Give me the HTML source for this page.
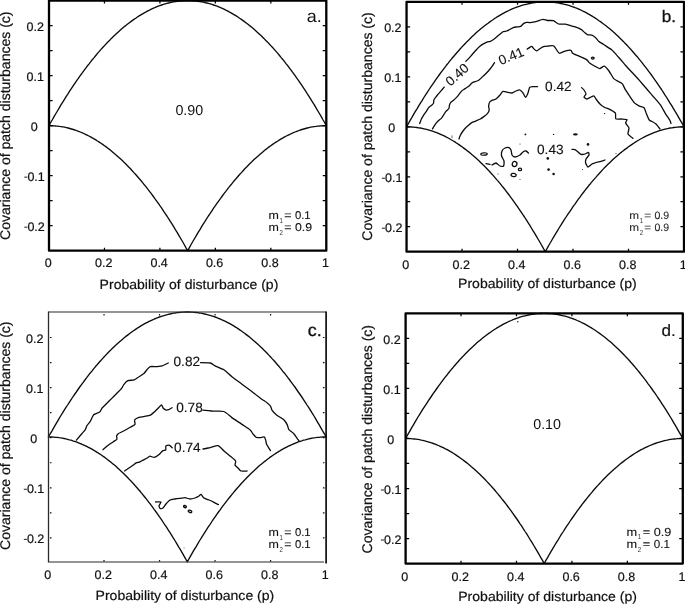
<!DOCTYPE html>
<html><head><meta charset="utf-8"><title>fig</title>
<style>
html,body{margin:0;padding:0;background:#fff;}
body{width:685px;height:604px;overflow:hidden;position:relative;font-family:"Liberation Sans",sans-serif;}
svg{position:absolute;left:0;top:0;will-change:transform;}
text{font-family:"Liberation Sans",sans-serif;fill:#111;text-rendering:geometricPrecision;}
.tk,.al,.yl{stroke:#111;stroke-width:0.2px;}
.ml{stroke:#111;stroke-width:0.1px;}
.tk{font-size:12.5px;}
.al{font-size:13.3px;}
.yl{font-size:14px;}
.pl{font-size:17.6px;}
.ml{font-size:11.3px;}
.ms{font-size:7.2px;fill:#333;}
.cl{font-size:13.4px;stroke:#111;stroke-width:0.12px;}
.bl{font-size:14.3px;}
.cv{fill:none;stroke:#0c0c0c;stroke-width:1.35;stroke-linejoin:round;stroke-linecap:round;}
.ct{fill:none;stroke:#0c0c0c;stroke-width:1.3;stroke-linejoin:round;stroke-linecap:round;}
.dt{fill:#111;}
</style></head><body>
<svg width="685" height="604" viewBox="0 0 685 604">
<rect x="0" y="0" width="685" height="604" fill="#fff"/>

<!-- panel a -->
<path class="cv" d="M49.0 125.6 L50.7 122.5 L52.5 119.5 L54.2 116.4 L55.9 113.5 L57.7 110.5 L59.4 107.6 L61.1 104.7 L62.9 101.9 L64.6 99.1 L66.3 96.3 L68.1 93.6 L69.8 90.9 L71.5 88.3 L73.3 85.7 L75.0 83.2 L76.7 80.6 L78.5 78.2 L80.2 75.7 L81.9 73.3 L83.7 70.9 L85.4 68.6 L87.1 66.3 L88.9 64.1 L90.6 61.9 L92.3 59.7 L94.1 57.6 L95.8 55.5 L97.5 53.4 L99.3 51.4 L101.0 49.4 L102.7 47.5 L104.5 45.6 L106.2 43.8 L107.9 41.9 L109.7 40.2 L111.4 38.4 L113.1 36.7 L114.9 35.1 L116.6 33.4 L118.3 31.9 L120.1 30.3 L121.8 28.8 L123.5 27.3 L125.3 25.9 L127.0 24.5 L128.7 23.2 L130.5 21.9 L132.2 20.6 L133.9 19.4 L135.7 18.2 L137.4 17.0 L139.1 15.9 L140.9 14.8 L142.6 13.8 L144.3 12.8 L146.1 11.9 L147.8 10.9 L149.5 10.1 L151.3 9.2 L153.0 8.4 L154.7 7.7 L156.5 6.9 L158.2 6.2 L159.9 5.6 L161.7 5.0 L163.4 4.4 L165.1 3.9 L166.9 3.4 L168.6 3.0 L170.3 2.6 L172.1 2.2 L173.8 1.9 L175.5 1.6 L177.3 1.3 L179.0 1.1 L180.7 0.9 L182.5 0.8 L184.2 0.7 L185.9 0.6 L187.7 0.6 L189.4 0.6 L191.1 0.7 L192.8 0.8 L194.6 0.9 L196.3 1.1 L198.0 1.3 L199.8 1.6 L201.5 1.9 L203.2 2.2 L205.0 2.6 L206.7 3.0 L208.4 3.4 L210.2 3.9 L211.9 4.4 L213.6 5.0 L215.4 5.6 L217.1 6.2 L218.8 6.9 L220.6 7.7 L222.3 8.4 L224.0 9.2 L225.8 10.1 L227.5 10.9 L229.2 11.9 L231.0 12.8 L232.7 13.8 L234.4 14.8 L236.2 15.9 L237.9 17.0 L239.6 18.2 L241.4 19.4 L243.1 20.6 L244.8 21.9 L246.6 23.2 L248.3 24.5 L250.0 25.9 L251.8 27.3 L253.5 28.8 L255.2 30.3 L257.0 31.9 L258.7 33.4 L260.4 35.1 L262.2 36.7 L263.9 38.4 L265.6 40.2 L267.4 41.9 L269.1 43.8 L270.8 45.6 L272.6 47.5 L274.3 49.4 L276.0 51.4 L277.8 53.4 L279.5 55.5 L281.2 57.6 L283.0 59.7 L284.7 61.9 L286.4 64.1 L288.2 66.3 L289.9 68.6 L291.6 70.9 L293.4 73.3 L295.1 75.7 L296.8 78.2 L298.6 80.6 L300.3 83.2 L302.0 85.7 L303.8 88.3 L305.5 90.9 L307.2 93.6 L309.0 96.3 L310.7 99.1 L312.4 101.9 L314.2 104.7 L315.9 107.6 L317.6 110.5 L319.4 113.5 L321.1 116.4 L322.8 119.5 L324.6 122.5 L326.3 125.6"/>
<path class="cv" d="M49.0 125.6 L50.7 125.7 L52.5 125.7 L54.2 125.8 L55.9 126.0 L57.7 126.1 L59.4 126.4 L61.1 126.6 L62.9 126.9 L64.6 127.2 L66.3 127.6 L68.1 128.0 L69.8 128.5 L71.5 129.0 L73.3 129.5 L75.0 130.0 L76.7 130.7 L78.5 131.3 L80.2 132.0 L81.9 132.7 L83.7 133.5 L85.4 134.3 L87.1 135.1 L88.9 136.0 L90.6 136.9 L92.3 137.9 L94.1 138.9 L95.8 139.9 L97.5 141.0 L99.3 142.1 L101.0 143.2 L102.7 144.4 L104.5 145.7 L106.2 146.9 L107.9 148.2 L109.7 149.6 L111.4 151.0 L113.1 152.4 L114.9 153.9 L116.6 155.4 L118.3 156.9 L120.1 158.5 L121.8 160.1 L123.5 161.8 L125.3 163.5 L127.0 165.2 L128.7 167.0 L130.5 168.8 L132.2 170.7 L133.9 172.6 L135.7 174.5 L137.4 176.5 L139.1 178.5 L140.9 180.5 L142.6 182.6 L144.3 184.8 L146.1 186.9 L147.8 189.1 L149.5 191.4 L151.3 193.7 L153.0 196.0 L154.7 198.4 L156.5 200.8 L158.2 203.2 L159.9 205.7 L161.7 208.2 L163.4 210.8 L165.1 213.4 L166.9 216.0 L168.6 218.7 L170.3 221.4 L172.1 224.1 L173.8 226.9 L175.5 229.8 L177.3 232.6 L179.0 235.6 L180.7 238.5 L182.5 241.5 L184.2 244.5 L185.9 247.6 L187.7 250.7 L189.4 247.6 L191.1 244.5 L192.8 241.5 L194.6 238.5 L196.3 235.6 L198.0 232.6 L199.8 229.8 L201.5 226.9 L203.2 224.1 L205.0 221.4 L206.7 218.7 L208.4 216.0 L210.2 213.4 L211.9 210.8 L213.6 208.2 L215.4 205.7 L217.1 203.2 L218.8 200.8 L220.6 198.4 L222.3 196.0 L224.0 193.7 L225.8 191.4 L227.5 189.1 L229.2 186.9 L231.0 184.8 L232.7 182.6 L234.4 180.5 L236.2 178.5 L237.9 176.5 L239.6 174.5 L241.4 172.6 L243.1 170.7 L244.8 168.8 L246.6 167.0 L248.3 165.2 L250.0 163.5 L251.8 161.8 L253.5 160.1 L255.2 158.5 L257.0 156.9 L258.7 155.4 L260.4 153.9 L262.2 152.4 L263.9 151.0 L265.6 149.6 L267.4 148.2 L269.1 146.9 L270.8 145.7 L272.6 144.4 L274.3 143.2 L276.0 142.1 L277.8 141.0 L279.5 139.9 L281.2 138.9 L283.0 137.9 L284.7 136.9 L286.4 136.0 L288.2 135.1 L289.9 134.3 L291.6 133.5 L293.4 132.7 L295.1 132.0 L296.8 131.3 L298.6 130.7 L300.3 130.0 L302.0 129.5 L303.8 129.0 L305.5 128.5 L307.2 128.0 L309.0 127.6 L310.7 127.2 L312.4 126.9 L314.2 126.6 L315.9 126.4 L317.6 126.1 L319.4 126.0 L321.1 125.8 L322.8 125.7 L324.6 125.7 L326.3 125.6"/>
<rect x="49.00" y="0.60" width="277.30" height="250.10" fill="none" stroke="#000" stroke-width="2.3" stroke-linejoin="round"/>
<path d="M104.46 250.70V247.80M104.46 0.60V3.50" stroke="#000" stroke-width="1.25"/>
<path d="M159.92 250.70V247.80M159.92 0.60V3.50" stroke="#000" stroke-width="1.25"/>
<path d="M215.38 250.70V247.80M215.38 0.60V3.50" stroke="#000" stroke-width="1.25"/>
<path d="M270.84 250.70V247.80M270.84 0.60V3.50" stroke="#000" stroke-width="1.25"/>
<path d="M49.00 225.69H52.60M326.30 225.69H322.70" stroke="#000" stroke-width="1.25"/>
<path d="M49.00 200.68H52.60M326.30 200.68H322.70" stroke="#000" stroke-width="1.25"/>
<path d="M49.00 175.67H52.60M326.30 175.67H322.70" stroke="#000" stroke-width="1.25"/>
<path d="M49.00 150.66H52.60M326.30 150.66H322.70" stroke="#000" stroke-width="1.25"/>
<path d="M49.00 125.65H52.60M326.30 125.65H322.70" stroke="#000" stroke-width="1.25"/>
<path d="M49.00 100.64H52.60M326.30 100.64H322.70" stroke="#000" stroke-width="1.25"/>
<path d="M49.00 75.63H52.60M326.30 75.63H322.70" stroke="#000" stroke-width="1.25"/>
<path d="M49.00 50.62H52.60M326.30 50.62H322.70" stroke="#000" stroke-width="1.25"/>
<path d="M49.00 25.61H52.60M326.30 25.61H322.70" stroke="#000" stroke-width="1.25"/>
<text class="tk" transform="translate(48.20 267.20)" text-anchor="middle">0</text>
<text class="tk" transform="translate(103.66 267.20)" text-anchor="middle">0.2</text>
<text class="tk" transform="translate(159.12 267.20)" text-anchor="middle">0.4</text>
<text class="tk" transform="translate(214.58 267.20)" text-anchor="middle">0.6</text>
<text class="tk" transform="translate(270.04 267.20)" text-anchor="middle">0.8</text>
<text class="tk" transform="translate(325.50 267.20)" text-anchor="middle">1</text>
<text class="tk" transform="translate(44.00 30.76)" text-anchor="end">0.2</text>
<text class="tk" transform="translate(44.00 80.78)" text-anchor="end">0.1</text>
<text class="tk" transform="translate(37.60 130.80)" text-anchor="end">0</text>
<text class="tk" transform="translate(44.80 180.82)" text-anchor="end">0.1</text>
<path d="M24.30 177.17H27.40" stroke="#333" stroke-width="1.1"/>
<text class="tk" transform="translate(44.80 230.84)" text-anchor="end">0.2</text>
<path d="M24.30 227.19H27.40" stroke="#333" stroke-width="1.1"/>
<text class="al" transform="translate(188.95 288.60) scale(1.056 1)" text-anchor="middle">Probability of disturbance (p)</text>
<text class="yl" transform="translate(9.90 125.70) rotate(-90.0) scale(1.002 1)" text-anchor="middle">Covariance of patch disturbances (c)</text>
<text class="pl" transform="translate(306.70 21.90) scale(1.030 1)" text-anchor="start" style="font-size:17.4px">a.</text>
<text class="bl" transform="translate(175.40 115.00)" text-anchor="start">0.90</text>
<text class="ml" transform="translate(268.40 219.00) scale(1.100 1)" text-anchor="start" style="fill:#111;font-size:11.30px">m</text>
<text class="ms" transform="translate(279.50 222.60) scale(0.850 1)" text-anchor="start">1</text>
<text class="ml" transform="translate(284.20 219.00) scale(1.100 1)" text-anchor="start" style="fill:#111;font-size:11.30px">=</text>
<text class="ml" transform="translate(294.90 219.00)" text-anchor="start" style="fill:#111;font-size:11.30px">0.1</text>
<text class="ml" transform="translate(268.40 231.30) scale(1.100 1)" text-anchor="start" style="fill:#111;font-size:11.30px">m</text>
<text class="ms" transform="translate(279.50 234.90) scale(0.850 1)" text-anchor="start">2</text>
<text class="ml" transform="translate(284.20 231.30) scale(1.100 1)" text-anchor="start" style="fill:#111;font-size:11.30px">=</text>
<text class="ml" transform="translate(294.90 231.30) scale(1.090 1)" text-anchor="start" style="fill:#111;font-size:11.30px">0.9</text>
<!-- panel b -->
<path class="cv" d="M406.6 126.8 L408.3 123.7 L410.0 120.6 L411.8 117.6 L413.5 114.6 L415.2 111.7 L417.0 108.8 L418.7 105.9 L420.4 103.1 L422.2 100.3 L423.9 97.5 L425.6 94.8 L427.4 92.1 L429.1 89.5 L430.8 86.9 L432.6 84.4 L434.3 81.8 L436.0 79.4 L437.8 76.9 L439.5 74.5 L441.2 72.2 L443.0 69.8 L444.7 67.6 L446.4 65.3 L448.2 63.1 L449.9 60.9 L451.6 58.8 L453.4 56.7 L455.1 54.7 L456.8 52.7 L458.6 50.7 L460.3 48.8 L462.0 46.9 L463.8 45.0 L465.5 43.2 L467.2 41.4 L469.0 39.7 L470.7 38.0 L472.4 36.3 L474.2 34.7 L475.9 33.1 L477.6 31.6 L479.4 30.1 L481.1 28.6 L482.8 27.2 L484.6 25.8 L486.3 24.5 L488.1 23.2 L489.8 21.9 L491.5 20.7 L493.3 19.5 L495.0 18.3 L496.7 17.2 L498.5 16.1 L500.2 15.1 L501.9 14.1 L503.7 13.1 L505.4 12.2 L507.1 11.3 L508.9 10.5 L510.6 9.7 L512.3 8.9 L514.1 8.2 L515.8 7.5 L517.5 6.9 L519.3 6.3 L521.0 5.7 L522.7 5.2 L524.5 4.7 L526.2 4.3 L527.9 3.9 L529.7 3.5 L531.4 3.1 L533.1 2.9 L534.9 2.6 L536.6 2.4 L538.3 2.2 L540.1 2.1 L541.8 2.0 L543.5 1.9 L545.3 1.9 L547.0 1.9 L548.7 2.0 L550.5 2.1 L552.2 2.2 L553.9 2.4 L555.7 2.6 L557.4 2.9 L559.1 3.1 L560.9 3.5 L562.6 3.9 L564.3 4.3 L566.1 4.7 L567.8 5.2 L569.6 5.7 L571.3 6.3 L573.0 6.9 L574.8 7.5 L576.5 8.2 L578.2 8.9 L580.0 9.7 L581.7 10.5 L583.4 11.3 L585.2 12.2 L586.9 13.1 L588.6 14.1 L590.4 15.1 L592.1 16.1 L593.8 17.2 L595.6 18.3 L597.3 19.5 L599.0 20.7 L600.8 21.9 L602.5 23.2 L604.2 24.5 L606.0 25.8 L607.7 27.2 L609.4 28.6 L611.2 30.1 L612.9 31.6 L614.6 33.1 L616.4 34.7 L618.1 36.3 L619.8 38.0 L621.6 39.7 L623.3 41.4 L625.0 43.2 L626.8 45.0 L628.5 46.9 L630.2 48.8 L632.0 50.7 L633.7 52.7 L635.4 54.7 L637.2 56.7 L638.9 58.8 L640.6 60.9 L642.4 63.1 L644.1 65.3 L645.9 67.6 L647.6 69.8 L649.3 72.2 L651.1 74.5 L652.8 76.9 L654.5 79.4 L656.3 81.8 L658.0 84.4 L659.7 86.9 L661.5 89.5 L663.2 92.1 L664.9 94.8 L666.7 97.5 L668.4 100.3 L670.1 103.1 L671.9 105.9 L673.6 108.8 L675.3 111.7 L677.1 114.6 L678.8 117.6 L680.5 120.6 L682.3 123.7 L684.0 126.8"/>
<path class="cv" d="M406.6 126.8 L408.3 126.8 L410.0 126.9 L411.8 127.0 L413.5 127.1 L415.2 127.3 L417.0 127.5 L418.7 127.8 L420.4 128.0 L422.2 128.4 L423.9 128.8 L425.6 129.2 L427.4 129.6 L429.1 130.1 L430.8 130.6 L432.6 131.2 L434.3 131.8 L436.0 132.4 L437.8 133.1 L439.5 133.8 L441.2 134.6 L443.0 135.4 L444.7 136.2 L446.4 137.1 L448.2 138.0 L449.9 139.0 L451.6 140.0 L453.4 141.0 L455.1 142.1 L456.8 143.2 L458.6 144.4 L460.3 145.6 L462.0 146.8 L463.8 148.1 L465.5 149.4 L467.2 150.7 L469.0 152.1 L470.7 153.5 L472.4 155.0 L474.2 156.5 L475.9 158.0 L477.6 159.6 L479.4 161.2 L481.1 162.9 L482.8 164.6 L484.6 166.3 L486.3 168.1 L488.1 169.9 L489.8 171.8 L491.5 173.7 L493.3 175.6 L495.0 177.6 L496.7 179.6 L498.5 181.6 L500.2 183.7 L501.9 185.8 L503.7 188.0 L505.4 190.2 L507.1 192.5 L508.9 194.7 L510.6 197.1 L512.3 199.4 L514.1 201.8 L515.8 204.3 L517.5 206.7 L519.3 209.3 L521.0 211.8 L522.7 214.4 L524.5 217.0 L526.2 219.7 L527.9 222.4 L529.7 225.2 L531.4 228.0 L533.1 230.8 L534.9 233.7 L536.6 236.6 L538.3 239.5 L540.1 242.5 L541.8 245.5 L543.5 248.6 L545.3 251.7 L547.0 248.6 L548.7 245.5 L550.5 242.5 L552.2 239.5 L553.9 236.6 L555.7 233.7 L557.4 230.8 L559.1 228.0 L560.9 225.2 L562.6 222.4 L564.3 219.7 L566.1 217.0 L567.8 214.4 L569.6 211.8 L571.3 209.3 L573.0 206.7 L574.8 204.3 L576.5 201.8 L578.2 199.4 L580.0 197.1 L581.7 194.7 L583.4 192.5 L585.2 190.2 L586.9 188.0 L588.6 185.8 L590.4 183.7 L592.1 181.6 L593.8 179.6 L595.6 177.6 L597.3 175.6 L599.0 173.7 L600.8 171.8 L602.5 169.9 L604.2 168.1 L606.0 166.3 L607.7 164.6 L609.4 162.9 L611.2 161.2 L612.9 159.6 L614.6 158.0 L616.4 156.5 L618.1 155.0 L619.8 153.5 L621.6 152.1 L623.3 150.7 L625.0 149.4 L626.8 148.1 L628.5 146.8 L630.2 145.6 L632.0 144.4 L633.7 143.2 L635.4 142.1 L637.2 141.0 L638.9 140.0 L640.6 139.0 L642.4 138.0 L644.1 137.1 L645.9 136.2 L647.6 135.4 L649.3 134.6 L651.1 133.8 L652.8 133.1 L654.5 132.4 L656.3 131.8 L658.0 131.2 L659.7 130.6 L661.5 130.1 L663.2 129.6 L664.9 129.2 L666.7 128.8 L668.4 128.4 L670.1 128.0 L671.9 127.8 L673.6 127.5 L675.3 127.3 L677.1 127.1 L678.8 127.0 L680.5 126.9 L682.3 126.8 L684.0 126.8"/>
<rect x="406.55" y="1.90" width="277.45" height="249.80" fill="none" stroke="#000" stroke-width="2.3" stroke-linejoin="round"/>
<path d="M462.04 251.70V248.80M462.04 1.90V4.80" stroke="#000" stroke-width="1.25"/>
<path d="M517.53 251.70V248.80M517.53 1.90V4.80" stroke="#000" stroke-width="1.25"/>
<path d="M573.02 251.70V248.80M573.02 1.90V4.80" stroke="#000" stroke-width="1.25"/>
<path d="M628.51 251.70V248.80M628.51 1.90V4.80" stroke="#000" stroke-width="1.25"/>
<path d="M406.55 226.72H410.15M684.00 226.72H680.40" stroke="#000" stroke-width="1.25"/>
<path d="M406.55 201.74H410.15M684.00 201.74H680.40" stroke="#000" stroke-width="1.25"/>
<path d="M406.55 176.76H410.15M684.00 176.76H680.40" stroke="#000" stroke-width="1.25"/>
<path d="M406.55 151.78H410.15M684.00 151.78H680.40" stroke="#000" stroke-width="1.25"/>
<path d="M406.55 126.80H410.15M684.00 126.80H680.40" stroke="#000" stroke-width="1.25"/>
<path d="M406.55 101.82H410.15M684.00 101.82H680.40" stroke="#000" stroke-width="1.25"/>
<path d="M406.55 76.84H410.15M684.00 76.84H680.40" stroke="#000" stroke-width="1.25"/>
<path d="M406.55 51.86H410.15M684.00 51.86H680.40" stroke="#000" stroke-width="1.25"/>
<path d="M406.55 26.88H410.15M684.00 26.88H680.40" stroke="#000" stroke-width="1.25"/>
<text class="tk" transform="translate(405.75 268.80)" text-anchor="middle">0</text>
<text class="tk" transform="translate(461.24 268.80)" text-anchor="middle">0.2</text>
<text class="tk" transform="translate(516.73 268.80)" text-anchor="middle">0.4</text>
<text class="tk" transform="translate(572.22 268.80)" text-anchor="middle">0.6</text>
<text class="tk" transform="translate(627.71 268.80)" text-anchor="middle">0.8</text>
<text class="tk" transform="translate(683.20 268.80)" text-anchor="middle">1</text>
<text class="tk" transform="translate(401.55 32.03)" text-anchor="end">0.2</text>
<text class="tk" transform="translate(401.55 81.99)" text-anchor="end">0.1</text>
<text class="tk" transform="translate(395.15 131.95)" text-anchor="end">0</text>
<text class="tk" transform="translate(402.35 181.91)" text-anchor="end">0.1</text>
<path d="M381.85 178.26H384.95" stroke="#333" stroke-width="1.1"/>
<text class="tk" transform="translate(402.35 231.87)" text-anchor="end">0.2</text>
<path d="M381.85 228.22H384.95" stroke="#333" stroke-width="1.1"/>
<text class="al" transform="translate(547.40 288.30) scale(1.056 1)" text-anchor="middle">Probability of disturbance (p)</text>
<text class="yl" transform="translate(372.20 126.50) rotate(-90.0) scale(1.002 1)" text-anchor="middle">Covariance of patch disturbances (c)</text>
<text class="pl" transform="translate(661.70 21.70) scale(1.030 1)" text-anchor="start" style="font-size:16.6px;stroke:#111;stroke-width:0.3px">b.</text>
<text class="ml" transform="translate(629.30 219.00) scale(1.100 1)" text-anchor="start" style="fill:#2a2a2a;font-size:10.68px">m</text>
<text class="ms" transform="translate(639.82 222.60) scale(0.850 1)" text-anchor="start">1</text>
<text class="ml" transform="translate(644.26 219.00) scale(1.100 1)" text-anchor="start" style="fill:#2a2a2a;font-size:10.68px">=</text>
<text class="ml" transform="translate(654.38 219.00) scale(0.990 1)" text-anchor="start" style="fill:#2a2a2a;font-size:10.68px">0.9</text>
<text class="ml" transform="translate(629.30 230.90) scale(1.100 1)" text-anchor="start" style="fill:#2a2a2a;font-size:10.68px">m</text>
<text class="ms" transform="translate(639.82 234.50) scale(0.850 1)" text-anchor="start">2</text>
<text class="ml" transform="translate(644.26 230.90) scale(1.100 1)" text-anchor="start" style="fill:#2a2a2a;font-size:10.68px">=</text>
<text class="ml" transform="translate(654.38 230.90) scale(0.990 1)" text-anchor="start" style="fill:#2a2a2a;font-size:10.68px">0.9</text>
<path class="ct" d="M419.7 123.6 C419.9 123.1 421.0 119.9 421.4 119.0 C421.8 118.1 423.3 115.7 423.8 114.9 C424.3 114.1 426.2 111.6 426.7 110.8 C427.2 110.0 428.5 107.8 429.0 107.3 C429.5 106.8 430.9 105.9 431.4 105.5 C431.8 105.1 433.2 103.8 433.5 103.2 C433.8 102.6 433.6 100.3 433.9 99.7 C434.1 99.1 435.5 97.4 436.0 96.8 C436.5 96.2 438.3 94.0 438.9 93.3 C439.5 92.6 441.4 90.4 441.9 89.8 C442.4 89.2 444.0 87.4 444.2 87.1"/>
<path class="ct" d="M465.8 61.4 C466.2 61.0 468.6 58.7 469.3 57.9 C470.0 57.1 472.1 54.6 472.8 53.8 C473.5 53.0 475.7 50.5 476.4 49.7 C477.1 48.9 479.2 46.8 479.9 46.2 C480.6 45.6 482.7 44.3 483.4 43.9 C484.1 43.5 486.2 42.4 486.9 42.1 C487.6 41.8 489.7 41.6 490.4 41.3 C491.1 41.0 493.2 39.7 493.9 39.2 C494.6 38.7 496.7 36.9 497.4 36.3 C498.1 35.7 500.3 33.9 500.9 33.4 C501.5 32.9 502.6 31.8 503.2 31.6 C503.8 31.4 506.0 31.2 506.7 31.0 C507.4 30.8 509.5 29.7 510.2 29.3 C510.9 28.9 513.0 27.5 513.7 27.3 C514.4 27.1 516.5 27.0 517.2 26.9 C517.9 26.8 520.1 26.8 520.7 26.4 C521.4 26.0 523.1 23.8 523.7 23.4 C524.3 23.0 526.0 22.4 526.6 22.3 C527.2 22.2 529.2 22.7 530.1 22.6 C531.0 22.5 534.5 22.0 535.8 21.7 C537.1 21.4 541.6 19.4 542.8 19.3 C544.0 19.2 546.4 20.4 547.5 20.5 C548.6 20.6 552.3 20.3 553.4 20.7 C554.5 21.1 557.4 23.6 558.6 24.0 C559.8 24.4 563.8 24.0 565.0 24.2 C566.2 24.4 569.7 25.5 570.9 25.8 C572.1 26.1 575.7 26.9 576.7 27.3 C577.8 27.7 580.6 29.1 581.4 29.6 C582.2 30.2 584.3 32.3 584.9 32.8 C585.5 33.3 587.1 34.6 587.8 34.8 C588.5 35.0 591.1 34.8 591.9 35.1 C592.7 35.4 594.7 36.8 595.4 37.4 C596.1 38.0 598.1 40.8 598.9 41.5 C599.7 42.2 602.3 43.6 603.6 44.5 C604.9 45.4 610.4 48.8 611.9 50.0 C613.4 51.2 617.0 55.5 618.4 57.0 C619.8 58.5 624.0 63.6 625.4 65.2 C626.8 66.8 631.0 71.3 632.4 72.8 C633.8 74.3 638.0 78.8 639.4 80.4 C640.8 82.0 645.0 86.9 646.4 88.5 C647.8 90.1 652.0 95.1 653.4 96.7 C654.8 98.3 659.2 103.3 660.4 104.9 C661.6 106.5 664.2 111.6 665.1 113.1 C666.0 114.6 669.1 119.0 669.7 120.0 C670.3 121.0 670.9 123.2 671.0 123.5"/>
<path class="ct" d="M432.5 128.9 C432.7 128.5 434.4 125.6 434.9 124.8 C435.4 124.0 437.2 121.9 437.8 121.3 C438.4 120.7 440.7 119.0 441.3 118.4 C441.9 117.8 443.1 115.6 443.6 114.9 C444.1 114.2 445.4 112.0 445.9 111.4 C446.4 110.8 448.5 109.1 448.9 108.5 C449.3 107.9 449.3 105.6 449.5 105.0 C449.7 104.4 450.2 103.1 450.6 102.6 C451.0 102.1 452.9 100.8 453.5 100.3 C454.1 99.8 455.9 98.0 456.5 97.4 C457.1 96.8 458.9 94.6 459.4 93.9 C459.9 93.2 461.1 91.4 461.7 90.9 C462.3 90.4 464.5 89.1 465.2 88.6 C465.9 88.1 468.0 86.9 468.7 86.3 C469.4 85.7 471.6 83.3 472.2 82.8 C472.8 82.3 474.5 81.9 475.1 81.6 C475.8 81.3 477.9 80.8 478.7 80.2 C479.5 79.6 482.4 76.9 483.4 75.9 C484.4 75.0 487.8 71.6 488.6 70.7 C489.4 69.8 490.9 68.0 491.5 67.2 C492.1 66.4 494.2 63.1 494.5 62.6"/>
<path class="ct" d="M527.2 49.1 C527.5 48.9 529.6 47.4 530.1 47.1 C530.6 46.8 531.4 46.2 531.8 46.4 C532.2 46.6 533.7 48.6 534.2 49.1 C534.7 49.6 535.9 51.1 536.8 50.9 C537.7 50.7 541.6 47.3 542.8 46.8 C544.0 46.3 547.6 46.1 548.7 46.0 C549.8 45.9 552.9 45.3 553.9 46.0 C554.9 46.7 558.1 52.7 559.2 53.2 C560.3 53.7 563.8 51.4 565.0 51.1 C566.2 50.8 570.1 50.1 570.9 50.3 C571.7 50.5 571.8 52.6 572.6 53.2 C573.4 53.8 577.6 55.5 579.0 56.1 C580.4 56.7 585.5 58.9 586.6 59.6 C587.7 60.3 588.8 62.5 589.6 63.1 C590.4 63.7 593.2 65.2 594.2 65.8 C595.2 66.3 598.7 68.6 599.7 68.6 C600.7 68.6 603.4 65.9 604.3 66.1 C605.2 66.3 608.1 69.8 609.0 71.0 C609.9 72.2 612.8 77.5 613.7 78.6 C614.6 79.6 617.5 81.0 618.4 81.5 C619.3 82.0 621.7 83.1 622.4 83.9 C623.1 84.7 624.6 88.4 625.4 89.7 C626.2 91.0 629.1 95.4 630.0 96.7 C630.9 98.0 633.8 102.2 634.7 103.1 C635.6 104.0 638.5 105.6 639.4 106.1 C640.3 106.6 643.4 107.0 644.1 107.8 C644.8 108.6 645.9 112.5 646.4 113.7 C646.9 114.9 648.7 119.2 649.3 120.0 C649.9 120.8 651.3 121.1 652.0 121.5 C652.7 121.9 655.2 123.2 656.0 124.0 C656.8 124.8 659.6 128.5 660.0 129.0"/>
<path class="ct" d="M459.0 139.0 C459.1 138.7 459.6 136.8 460.0 136.0 C460.4 135.2 462.4 131.8 463.0 131.0 C463.6 130.2 465.0 128.5 465.5 128.0 C466.0 127.5 467.0 126.5 467.6 126.0 C468.2 125.5 470.4 123.6 471.1 123.1 C471.9 122.6 474.2 121.7 475.1 121.3 C476.0 120.9 479.5 119.5 480.4 119.0 C481.3 118.5 483.2 117.1 483.9 116.6 C484.6 116.1 486.9 114.3 487.4 113.7 C487.9 113.1 489.1 111.0 489.2 110.2 C489.3 109.4 488.6 106.9 488.6 106.1 C488.7 105.3 489.3 102.6 489.7 102.0 C490.1 101.4 491.5 100.6 492.1 100.3 C492.7 100.0 495.2 99.5 496.0 99.0 C496.8 98.5 499.3 95.8 500.0 95.0 C500.7 94.2 502.2 91.7 503.0 91.4 C503.8 91.1 507.1 92.2 508.0 92.4 C508.9 92.6 511.2 93.1 512.0 93.0 C512.8 92.9 515.2 91.3 516.0 91.0 C516.8 90.7 519.3 89.8 520.0 90.0 C520.7 90.2 522.4 92.3 523.0 93.0 C523.6 93.7 525.1 97.4 525.6 97.4 C526.1 97.4 527.6 94.0 528.0 93.0 C528.4 92.0 529.1 88.0 529.6 87.4 C530.1 86.8 532.2 86.7 533.0 86.6 C533.8 86.5 537.1 86.6 537.6 86.6"/>
<path class="ct" d="M581.6 87.6 C581.8 87.8 583.6 89.4 584.0 90.0 C584.4 90.6 586.0 93.3 586.0 94.0 C586.0 94.7 583.9 96.5 584.0 97.0 C584.1 97.5 586.3 99.0 587.0 99.0 C587.7 99.0 590.3 97.3 591.0 97.0 C591.7 96.7 593.5 95.8 594.0 96.0 C594.5 96.2 595.4 98.2 596.0 99.0 C596.6 99.8 598.9 102.9 599.7 103.7 C600.5 104.5 603.2 106.6 604.3 107.2 C605.3 107.8 609.1 109.0 610.2 109.6 C611.3 110.2 614.8 112.2 615.4 113.1 C616.0 114.0 615.2 118.3 615.8 118.9 C616.4 119.5 619.9 118.9 621.0 119.0 C622.1 119.1 626.5 119.2 627.0 119.6 C627.5 120.0 625.4 122.2 625.6 123.0 C625.8 123.8 628.8 126.9 629.0 128.0 C629.2 129.1 627.6 133.0 628.0 134.0 C628.4 135.0 632.5 138.0 633.0 138.4"/>
<path class="ct" d="M492.0 165.0 C492.4 164.8 495.2 162.9 496.0 163.0 C496.8 163.1 499.2 165.7 500.0 166.0 C500.8 166.3 503.2 166.5 503.6 166.0 C504.0 165.5 504.2 162.0 504.0 161.0 C503.8 160.0 501.8 157.0 501.6 156.0 C501.4 155.0 501.7 151.8 502.0 151.0 C502.3 150.2 504.3 148.3 505.0 148.0 C505.7 147.7 508.4 147.4 509.0 147.6 C509.6 147.8 510.7 149.3 511.0 150.0 C511.3 150.7 511.6 154.3 512.0 155.0 C512.4 155.7 514.2 157.0 515.0 157.0 C515.8 157.0 519.2 155.5 520.0 155.0 C520.8 154.5 522.4 152.4 523.0 152.0 C523.6 151.6 525.5 150.9 526.0 151.0 C526.5 151.1 528.2 152.8 528.4 153.0"/>
<path class="ct" d="M572.0 149.4 C572.3 149.4 574.4 149.3 575.0 149.6 C575.6 149.9 577.4 151.5 578.0 152.0 C578.6 152.5 580.3 154.2 581.0 154.4 C581.7 154.6 584.3 154.2 585.0 154.0 C585.7 153.8 588.0 152.3 588.4 152.4 C588.8 152.5 589.2 154.3 589.0 155.0 C588.8 155.7 586.3 158.2 586.0 159.0 C585.7 159.8 585.4 162.2 585.6 163.0 C585.8 163.8 587.4 166.9 588.0 167.0 C588.6 167.1 591.0 164.5 592.0 164.0 C593.0 163.5 596.7 162.4 598.0 162.0 C599.3 161.6 604.3 160.2 605.0 160.0"/>
<path class="ct" d="M486 163.6L490 164.4"/>
<path class="ct" d="M452 135.8L452 137.8" style="stroke-width:0.8;stroke:#444"/>
<ellipse class="ct" cx="592.8" cy="58.1" rx="1.3" ry="1.0" transform="rotate(0 592.8 58.1)" style="stroke-width:1.4"/>
<ellipse class="ct" cx="484.0" cy="154.0" rx="3.3" ry="1.2" transform="rotate(-5 484.0 154.0)" style="stroke-width:1.25"/>
<ellipse class="ct" cx="514.6" cy="164.0" rx="2.3" ry="2.6" transform="rotate(20 514.6 164.0)" style="stroke-width:1.25"/>
<ellipse class="ct" cx="520.0" cy="169.4" rx="1.6" ry="1.3" transform="rotate(0 520.0 169.4)" style="stroke-width:1.25"/>
<ellipse class="ct" cx="513.6" cy="175.0" rx="2.6" ry="1.6" transform="rotate(10 513.6 175.0)" style="stroke-width:1.25"/>
<circle class="dt" cx="525.4" cy="134.4" r="0.9"/>
<circle class="dt" cx="553.6" cy="134.4" r="0.7"/>
<circle class="dt" cx="520.0" cy="144.0" r="0.5"/>
<circle class="dt" cx="547.8" cy="158.4" r="1.3"/>
<circle class="dt" cx="548.6" cy="169.6" r="1.3"/>
<circle class="dt" cx="553.6" cy="174.0" r="1.3"/>
<circle class="dt" cx="498.0" cy="174.0" r="0.5"/>
<circle class="dt" cx="520.0" cy="179.6" r="0.5"/>
<circle class="dt" cx="588.0" cy="144.4" r="1.3"/>
<circle class="dt" cx="604.6" cy="113.6" r="0.7"/>
<circle class="dt" cx="616.0" cy="153.6" r="0.5"/>
<circle class="dt" cx="582.4" cy="169.6" r="0.5"/>
<ellipse class="dt" cx="575.4" cy="134.4" rx="2.4" ry="1.1"/>
<text class="cl" transform="translate(457.00 74.50) rotate(-42.0)" text-anchor="middle" dy="4.6">0.40</text>
<text class="cl" transform="translate(511.00 56.00) rotate(-22.0)" text-anchor="middle" dy="4.6">0.41</text>
<text class="cl" transform="translate(558.40 91.40) scale(1.020 1)" text-anchor="middle">0.42</text>
<text class="cl" transform="translate(550.30 154.40) scale(1.020 1)" text-anchor="middle">0.43</text>
<!-- panel c -->
<path class="cv" d="M48.5 436.9 L50.2 433.8 L52.0 430.8 L53.7 427.8 L55.4 424.8 L57.2 421.8 L58.9 418.9 L60.6 416.0 L62.4 413.2 L64.1 410.4 L65.8 407.7 L67.6 405.0 L69.3 402.3 L71.1 399.6 L72.8 397.0 L74.5 394.5 L76.3 392.0 L78.0 389.5 L79.7 387.0 L81.5 384.6 L83.2 382.3 L84.9 380.0 L86.7 377.7 L88.4 375.4 L90.1 373.2 L91.9 371.1 L93.6 368.9 L95.3 366.8 L97.1 364.8 L98.8 362.8 L100.6 360.8 L102.3 358.9 L104.0 357.0 L105.8 355.1 L107.5 353.3 L109.2 351.5 L111.0 349.8 L112.7 348.1 L114.4 346.4 L116.2 344.8 L117.9 343.2 L119.6 341.7 L121.4 340.2 L123.1 338.7 L124.8 337.3 L126.6 335.9 L128.3 334.6 L130.0 333.3 L131.8 332.0 L133.5 330.8 L135.2 329.6 L137.0 328.4 L138.7 327.3 L140.5 326.2 L142.2 325.2 L143.9 324.2 L145.7 323.2 L147.4 322.3 L149.1 321.4 L150.9 320.6 L152.6 319.8 L154.3 319.0 L156.1 318.3 L157.8 317.6 L159.5 317.0 L161.3 316.4 L163.0 315.8 L164.7 315.3 L166.5 314.8 L168.2 314.4 L170.0 314.0 L171.7 313.6 L173.4 313.2 L175.2 313.0 L176.9 312.7 L178.6 312.5 L180.4 312.3 L182.1 312.2 L183.8 312.1 L185.6 312.0 L187.3 312.0 L189.0 312.0 L190.8 312.1 L192.5 312.2 L194.2 312.3 L196.0 312.5 L197.7 312.7 L199.4 313.0 L201.2 313.2 L202.9 313.6 L204.7 314.0 L206.4 314.4 L208.1 314.8 L209.9 315.3 L211.6 315.8 L213.3 316.4 L215.1 317.0 L216.8 317.6 L218.5 318.3 L220.3 319.0 L222.0 319.8 L223.7 320.6 L225.5 321.4 L227.2 322.3 L228.9 323.2 L230.7 324.2 L232.4 325.2 L234.1 326.2 L235.9 327.3 L237.6 328.4 L239.4 329.6 L241.1 330.8 L242.8 332.0 L244.6 333.3 L246.3 334.6 L248.0 335.9 L249.8 337.3 L251.5 338.7 L253.2 340.2 L255.0 341.7 L256.7 343.2 L258.4 344.8 L260.2 346.4 L261.9 348.1 L263.6 349.8 L265.4 351.5 L267.1 353.3 L268.8 355.1 L270.6 357.0 L272.3 358.9 L274.1 360.8 L275.8 362.8 L277.5 364.8 L279.3 366.8 L281.0 368.9 L282.7 371.1 L284.5 373.2 L286.2 375.4 L287.9 377.7 L289.7 380.0 L291.4 382.3 L293.1 384.6 L294.9 387.0 L296.6 389.5 L298.3 392.0 L300.1 394.5 L301.8 397.0 L303.5 399.6 L305.3 402.3 L307.0 405.0 L308.8 407.7 L310.5 410.4 L312.2 413.2 L314.0 416.0 L315.7 418.9 L317.4 421.8 L319.2 424.8 L320.9 427.8 L322.6 430.8 L324.4 433.8 L326.1 436.9"/>
<path class="cv" d="M48.5 436.9 L50.2 437.0 L52.0 437.0 L53.7 437.1 L55.4 437.3 L57.2 437.4 L58.9 437.7 L60.6 437.9 L62.4 438.2 L64.1 438.5 L65.8 438.9 L67.6 439.3 L69.3 439.8 L71.1 440.2 L72.8 440.8 L74.5 441.3 L76.3 441.9 L78.0 442.6 L79.7 443.3 L81.5 444.0 L83.2 444.8 L84.9 445.6 L86.7 446.4 L88.4 447.3 L90.1 448.2 L91.9 449.2 L93.6 450.1 L95.3 451.2 L97.1 452.3 L98.8 453.4 L100.6 454.5 L102.3 455.7 L104.0 456.9 L105.8 458.2 L107.5 459.5 L109.2 460.9 L111.0 462.3 L112.7 463.7 L114.4 465.1 L116.2 466.6 L117.9 468.2 L119.6 469.8 L121.4 471.4 L123.1 473.0 L124.8 474.7 L126.6 476.5 L128.3 478.3 L130.0 480.1 L131.8 481.9 L133.5 483.8 L135.2 485.8 L137.0 487.7 L138.7 489.7 L140.5 491.8 L142.2 493.9 L143.9 496.0 L145.7 498.2 L147.4 500.4 L149.1 502.6 L150.9 504.9 L152.6 507.2 L154.3 509.6 L156.1 512.0 L157.8 514.4 L159.5 516.9 L161.3 519.4 L163.0 522.0 L164.7 524.6 L166.5 527.2 L168.2 529.9 L170.0 532.6 L171.7 535.4 L173.4 538.2 L175.2 541.0 L176.9 543.9 L178.6 546.8 L180.4 549.7 L182.1 552.7 L183.8 555.7 L185.6 558.8 L187.3 561.9 L189.0 558.8 L190.8 555.7 L192.5 552.7 L194.2 549.7 L196.0 546.8 L197.7 543.9 L199.4 541.0 L201.2 538.2 L202.9 535.4 L204.7 532.6 L206.4 529.9 L208.1 527.2 L209.9 524.6 L211.6 522.0 L213.3 519.4 L215.1 516.9 L216.8 514.4 L218.5 512.0 L220.3 509.6 L222.0 507.2 L223.7 504.9 L225.5 502.6 L227.2 500.4 L228.9 498.2 L230.7 496.0 L232.4 493.9 L234.1 491.8 L235.9 489.7 L237.6 487.7 L239.4 485.8 L241.1 483.8 L242.8 481.9 L244.6 480.1 L246.3 478.3 L248.0 476.5 L249.8 474.7 L251.5 473.0 L253.2 471.4 L255.0 469.8 L256.7 468.2 L258.4 466.6 L260.2 465.1 L261.9 463.7 L263.6 462.3 L265.4 460.9 L267.1 459.5 L268.8 458.2 L270.6 456.9 L272.3 455.7 L274.1 454.5 L275.8 453.4 L277.5 452.3 L279.3 451.2 L281.0 450.1 L282.7 449.2 L284.5 448.2 L286.2 447.3 L287.9 446.4 L289.7 445.6 L291.4 444.8 L293.1 444.0 L294.9 443.3 L296.6 442.6 L298.3 441.9 L300.1 441.3 L301.8 440.8 L303.5 440.2 L305.3 439.8 L307.0 439.3 L308.8 438.9 L310.5 438.5 L312.2 438.2 L314.0 437.9 L315.7 437.7 L317.4 437.4 L319.2 437.3 L320.9 437.1 L322.6 437.0 L324.4 437.0 L326.1 436.9"/>
<path d="M48.50 312.00H326.10" stroke="#2a2a2a" stroke-width="1.05"/>
<path d="M48.50 562.00H324.10" stroke="#2a2a2a" stroke-width="1.05"/>
<path d="M48.50 311.50V562.40" stroke="#2a2a2a" stroke-width="1.3"/>
<path d="M326.10 311.50V563.60" stroke="#000" stroke-width="1.6"/>
<path d="M104.02 561.60V559.90M104.02 313.90V315.40" stroke="#111" stroke-width="1.2"/>
<path d="M159.54 561.60V559.90M159.54 313.90V315.40" stroke="#111" stroke-width="1.2"/>
<path d="M215.06 561.60V559.90M215.06 313.90V315.40" stroke="#111" stroke-width="1.2"/>
<path d="M270.58 561.60V559.90M270.58 313.90V315.40" stroke="#111" stroke-width="1.2"/>
<path d="M49.90 337.50H51.50M324.50 337.50H322.90" stroke="#111" stroke-width="1.2"/>
<path d="M49.90 362.55H51.50M324.50 362.55H322.90" stroke="#111" stroke-width="1.2"/>
<path d="M49.90 387.60H51.50M324.50 387.60H322.90" stroke="#111" stroke-width="1.2"/>
<path d="M49.90 412.65H51.50M324.50 412.65H322.90" stroke="#111" stroke-width="1.2"/>
<path d="M49.90 437.70H51.50M324.50 437.70H322.90" stroke="#111" stroke-width="1.2"/>
<path d="M49.90 462.75H51.50M324.50 462.75H322.90" stroke="#111" stroke-width="1.2"/>
<path d="M49.90 487.80H51.50M324.50 487.80H322.90" stroke="#111" stroke-width="1.2"/>
<path d="M49.90 512.85H51.50M324.50 512.85H322.90" stroke="#111" stroke-width="1.2"/>
<path d="M49.90 537.90H51.50M324.50 537.90H322.90" stroke="#111" stroke-width="1.2"/>
<text class="tk" transform="translate(47.70 578.50)" text-anchor="middle">0</text>
<text class="tk" transform="translate(103.22 578.50)" text-anchor="middle">0.2</text>
<text class="tk" transform="translate(158.74 578.50)" text-anchor="middle">0.4</text>
<text class="tk" transform="translate(214.26 578.50)" text-anchor="middle">0.6</text>
<text class="tk" transform="translate(269.78 578.50)" text-anchor="middle">0.8</text>
<text class="tk" transform="translate(325.30 578.50)" text-anchor="middle">1</text>
<text class="tk" transform="translate(43.50 342.65)" text-anchor="end">0.2</text>
<text class="tk" transform="translate(43.50 392.75)" text-anchor="end">0.1</text>
<text class="tk" transform="translate(37.10 442.85)" text-anchor="end">0</text>
<text class="tk" transform="translate(44.30 492.95)" text-anchor="end">0.1</text>
<path d="M23.80 489.30H26.90" stroke="#333" stroke-width="1.1"/>
<text class="tk" transform="translate(44.30 543.05)" text-anchor="end">0.2</text>
<path d="M23.80 539.40H26.90" stroke="#333" stroke-width="1.1"/>
<text class="al" transform="translate(184.90 600.00) scale(1.056 1)" text-anchor="middle">Probability of disturbance (p)</text>
<text class="yl" transform="translate(9.90 435.70) rotate(-90.0) scale(1.002 1)" text-anchor="middle">Covariance of patch disturbances (c)</text>
<text class="pl" transform="translate(307.80 335.70) scale(1.030 1)" text-anchor="start" style="font-size:17.4px;stroke:#111;stroke-width:0.3px">c.</text>
<text class="ml" transform="translate(268.40 536.00) scale(1.100 1)" text-anchor="start" style="fill:#111;font-size:11.30px">m</text>
<text class="ms" transform="translate(279.50 539.60) scale(0.850 1)" text-anchor="start">1</text>
<text class="ml" transform="translate(284.20 536.00) scale(1.100 1)" text-anchor="start" style="fill:#111;font-size:11.30px">=</text>
<text class="ml" transform="translate(294.90 536.00)" text-anchor="start" style="fill:#111;font-size:11.30px">0.1</text>
<text class="ml" transform="translate(268.40 548.30) scale(1.100 1)" text-anchor="start" style="fill:#111;font-size:11.30px">m</text>
<text class="ms" transform="translate(279.50 551.90) scale(0.850 1)" text-anchor="start">2</text>
<text class="ml" transform="translate(284.20 548.30) scale(1.100 1)" text-anchor="start" style="fill:#111;font-size:11.30px">=</text>
<text class="ml" transform="translate(294.90 548.30)" text-anchor="start" style="fill:#111;font-size:11.30px">0.1</text>
<path class="ct" d="M76.4 440.1 C76.9 439.5 80.3 435.5 81.2 434.5 C82.1 433.5 84.7 430.6 85.3 429.7 C85.9 428.8 86.4 426.5 86.9 425.7 C87.4 424.9 89.5 422.5 90.1 421.6 C90.7 420.7 92.1 417.5 92.5 416.8 C92.9 416.1 93.4 414.9 94.1 414.4 C94.8 413.9 98.9 412.6 99.7 412.0 C100.5 411.4 101.4 408.9 102.1 408.0 C102.8 407.1 105.9 404.2 106.9 403.2 C107.9 402.2 110.8 399.4 111.8 398.4 C112.8 397.4 115.6 394.5 116.6 393.5 C117.6 392.5 120.7 389.6 121.4 388.7 C122.1 387.8 123.2 385.5 123.8 384.7 C124.4 383.9 126.8 381.2 127.8 380.7 C128.8 380.2 133.1 380.3 134.2 379.9 C135.3 379.5 138.1 377.3 139.1 376.7 C140.1 376.1 143.1 374.2 143.9 373.5 C144.7 372.8 146.5 370.2 147.1 369.5 C147.7 368.8 149.3 366.9 150.3 366.6 C151.3 366.3 155.5 366.7 156.7 366.6 C157.9 366.5 161.1 366.3 162.3 365.9 C163.5 365.5 167.7 363.3 168.3 363.0"/>
<path class="ct" d="M200.6 362.7 C201.6 362.7 208.9 362.7 210.3 363.0 C211.8 363.3 213.7 365.2 215.1 365.9 C216.5 366.6 222.2 368.7 223.9 369.8 C225.6 370.9 230.1 375.3 231.9 376.7 C233.7 378.1 239.7 382.5 241.6 383.9 C243.5 385.3 249.3 389.7 251.2 391.1 C253.1 392.6 259.2 397.2 260.8 398.4 C262.4 399.6 266.3 402.1 267.3 402.9 C268.3 403.7 270.0 405.4 270.5 406.1 C271.0 406.9 271.5 409.5 272.1 410.4 C272.7 411.3 275.7 414.2 276.9 415.2 C278.1 416.2 283.1 419.0 284.1 420.0 C285.1 421.0 286.8 423.9 287.3 424.9 C287.8 425.9 288.2 428.8 288.9 429.7 C289.5 430.6 292.9 432.7 293.8 433.7 C294.7 434.7 297.3 438.6 297.8 439.3 C298.3 440.0 298.9 440.8 299.0 441.0"/>
<path class="ct" d="M102.9 449.7 C103.5 449.2 107.5 445.7 108.5 444.9 C109.5 444.1 112.6 442.3 113.4 441.7 C114.2 441.1 116.6 439.9 116.9 439.3 C117.2 438.7 116.5 436.7 116.6 436.1 C116.7 435.5 117.4 434.3 118.2 433.7 C119.0 433.1 123.4 431.1 124.6 430.5 C125.8 429.9 129.2 427.9 130.2 427.3 C131.2 426.7 134.6 425.1 135.0 424.4 C135.4 423.7 134.3 420.7 134.6 420.0 C134.9 419.3 137.3 418.0 138.3 417.6 C139.3 417.2 143.5 416.5 144.7 416.3 C145.9 416.1 149.3 415.7 150.3 415.2 C151.3 414.7 154.2 412.0 155.1 411.2 C156.0 410.4 158.5 407.8 159.1 407.2 C159.7 406.6 161.1 404.7 161.5 404.8 C161.9 404.9 162.7 407.5 163.1 408.0 C163.5 408.5 165.0 409.7 165.6 409.9 C166.2 410.1 168.2 409.8 168.8 409.6 C169.4 409.4 171.7 407.9 172.0 407.7"/>
<path class="ct" d="M203.0 410.1 C204.1 410.2 212.2 411.1 214.3 411.2 C216.4 411.3 222.1 410.9 223.9 411.5 C225.7 412.1 230.1 416.3 231.9 417.6 C233.7 418.9 239.8 422.8 241.6 424.1 C243.4 425.4 249.3 429.2 250.4 430.2 C251.5 431.2 252.2 433.0 252.8 433.7 C253.4 434.4 255.3 436.8 256.0 437.2 C256.7 437.6 259.2 437.7 260.0 437.7 C260.8 437.7 263.5 436.7 264.1 436.9 C264.7 437.1 265.5 439.4 265.7 440.1 C265.9 440.8 266.2 443.3 266.5 444.1 C266.8 444.9 268.5 447.5 268.9 448.1 C269.3 448.8 270.3 450.4 270.5 450.6"/>
<path class="ct" d="M124.5 471.0 C125.1 470.6 129.7 467.6 130.9 466.8 C132.1 466.0 135.4 463.4 136.2 462.9 C137.0 462.4 138.7 462.4 139.3 462.1 C139.9 461.9 141.8 460.8 142.5 460.4 C143.2 460.0 146.1 458.7 146.8 458.3 C147.5 457.9 149.2 456.3 149.9 456.2 C150.6 456.1 153.3 457.5 154.2 457.4 C155.0 457.3 157.6 455.8 158.4 455.1 C159.2 454.5 161.9 451.4 162.6 450.9 C163.3 450.4 165.5 450.3 165.8 449.8 C166.1 449.3 165.5 446.5 165.8 446.0 C166.1 445.5 168.4 445.0 169.0 445.2 C169.6 445.4 171.9 447.4 172.2 447.7"/>
<path class="ct" d="M203.0 449.0 C203.7 448.9 208.5 447.9 210.0 447.6 C211.5 447.3 216.6 445.3 218.0 445.6 C219.4 445.9 222.8 450.0 224.0 451.0 C225.2 452.0 228.8 455.0 230.0 456.0 C231.2 457.0 235.1 460.1 235.6 461.0 C236.1 461.9 234.8 464.3 235.0 465.0 C235.2 465.7 237.4 467.4 238.0 468.0 C238.6 468.6 240.1 470.7 241.0 471.0 C241.9 471.3 246.4 471.0 247.0 471.0"/>
<path class="ct" d="M155.6 502.0 C156.1 502.0 160.7 501.6 161.0 502.0 C161.3 502.4 159.1 505.0 159.0 505.6 C158.9 506.2 159.6 508.2 160.0 508.4 C160.4 508.6 162.4 508.4 163.0 508.0 C163.6 507.6 165.3 504.8 166.0 504.0 C166.7 503.2 169.1 500.5 170.0 500.0 C170.9 499.5 174.0 499.2 175.0 499.0 C176.0 498.8 179.0 498.5 180.0 498.4 C181.0 498.3 184.0 497.5 185.0 497.6 C186.0 497.7 189.0 499.0 190.0 499.0 C191.0 499.0 194.1 498.3 195.0 498.0 C195.9 497.7 198.4 496.4 199.0 496.0 C199.6 495.6 200.5 494.2 201.0 494.4 C201.5 494.6 203.2 497.4 204.0 498.0 C204.8 498.6 208.0 499.6 209.0 500.0 C210.0 500.4 213.1 501.9 214.0 502.4 C214.9 502.9 218.0 504.4 218.4 504.6"/>
<ellipse class="ct" cx="185.0" cy="506.6" rx="1.4" ry="1.0" transform="rotate(20 185.0 506.6)" style="stroke-width:1.45"/>
<ellipse class="ct" cx="190.0" cy="511.4" rx="1.8" ry="1.1" transform="rotate(20 190.0 511.4)" style="stroke-width:1.45"/>
<circle cx="184.1" cy="547.9" r="0.6" fill="#888"/>
<text class="cl" transform="translate(186.80 366.00) scale(1.020 1)" text-anchor="middle">0.82</text>
<text class="cl" transform="translate(189.50 412.40) scale(1.020 1)" text-anchor="middle">0.78</text>
<text class="cl" transform="translate(187.40 452.40) scale(1.020 1)" text-anchor="middle">0.74</text>
<!-- panel d -->
<path class="cv" d="M405.6 438.5 L407.3 435.4 L409.1 432.3 L410.8 429.3 L412.5 426.3 L414.3 423.3 L416.0 420.4 L417.7 417.5 L419.5 414.7 L421.2 411.9 L422.9 409.2 L424.7 406.4 L426.4 403.8 L428.1 401.1 L429.9 398.5 L431.6 396.0 L433.3 393.4 L435.1 391.0 L436.8 388.5 L438.5 386.1 L440.2 383.8 L442.0 381.4 L443.7 379.1 L445.4 376.9 L447.2 374.7 L448.9 372.5 L450.6 370.4 L452.4 368.3 L454.1 366.2 L455.8 364.2 L457.6 362.3 L459.3 360.3 L461.0 358.4 L462.8 356.6 L464.5 354.8 L466.2 353.0 L468.0 351.2 L469.7 349.5 L471.4 347.9 L473.2 346.3 L474.9 344.7 L476.6 343.1 L478.4 341.6 L480.1 340.2 L481.8 338.7 L483.6 337.3 L485.3 336.0 L487.0 334.7 L488.8 333.4 L490.5 332.2 L492.2 331.0 L494.0 329.8 L495.7 328.7 L497.4 327.6 L499.2 326.6 L500.9 325.6 L502.6 324.7 L504.4 323.7 L506.1 322.9 L507.8 322.0 L509.6 321.2 L511.3 320.5 L513.0 319.7 L514.7 319.0 L516.5 318.4 L518.2 317.8 L519.9 317.2 L521.7 316.7 L523.4 316.2 L525.1 315.8 L526.9 315.4 L528.6 315.0 L530.3 314.7 L532.1 314.4 L533.8 314.1 L535.5 313.9 L537.3 313.7 L539.0 313.6 L540.7 313.5 L542.5 313.4 L544.2 313.4 L545.9 313.4 L547.7 313.5 L549.4 313.6 L551.1 313.7 L552.9 313.9 L554.6 314.1 L556.3 314.4 L558.1 314.7 L559.8 315.0 L561.5 315.4 L563.3 315.8 L565.0 316.2 L566.7 316.7 L568.5 317.2 L570.2 317.8 L571.9 318.4 L573.7 319.0 L575.4 319.7 L577.1 320.5 L578.8 321.2 L580.6 322.0 L582.3 322.9 L584.0 323.7 L585.8 324.7 L587.5 325.6 L589.2 326.6 L591.0 327.6 L592.7 328.7 L594.4 329.8 L596.2 331.0 L597.9 332.2 L599.6 333.4 L601.4 334.7 L603.1 336.0 L604.8 337.3 L606.6 338.7 L608.3 340.2 L610.0 341.6 L611.8 343.1 L613.5 344.7 L615.2 346.3 L617.0 347.9 L618.7 349.5 L620.4 351.2 L622.2 353.0 L623.9 354.8 L625.6 356.6 L627.4 358.4 L629.1 360.3 L630.8 362.3 L632.6 364.2 L634.3 366.2 L636.0 368.3 L637.8 370.4 L639.5 372.5 L641.2 374.7 L643.0 376.9 L644.7 379.1 L646.4 381.4 L648.1 383.8 L649.9 386.1 L651.6 388.5 L653.3 391.0 L655.1 393.4 L656.8 396.0 L658.5 398.5 L660.3 401.1 L662.0 403.8 L663.7 406.4 L665.5 409.2 L667.2 411.9 L668.9 414.7 L670.7 417.5 L672.4 420.4 L674.1 423.3 L675.9 426.3 L677.6 429.3 L679.3 432.3 L681.1 435.4 L682.8 438.5"/>
<path class="cv" d="M405.6 438.5 L407.3 438.5 L409.1 438.6 L410.8 438.7 L412.5 438.8 L414.3 439.0 L416.0 439.2 L417.7 439.4 L419.5 439.7 L421.2 440.1 L422.9 440.4 L424.7 440.8 L426.4 441.3 L428.1 441.8 L429.9 442.3 L431.6 442.9 L433.3 443.5 L435.1 444.1 L436.8 444.8 L438.5 445.5 L440.2 446.3 L442.0 447.1 L443.7 447.9 L445.4 448.8 L447.2 449.7 L448.9 450.7 L450.6 451.7 L452.4 452.7 L454.1 453.8 L455.8 454.9 L457.6 456.1 L459.3 457.3 L461.0 458.5 L462.8 459.8 L464.5 461.1 L466.2 462.4 L468.0 463.8 L469.7 465.2 L471.4 466.7 L473.2 468.2 L474.9 469.7 L476.6 471.3 L478.4 472.9 L480.1 474.6 L481.8 476.3 L483.6 478.0 L485.3 479.8 L487.0 481.6 L488.8 483.5 L490.5 485.4 L492.2 487.3 L494.0 489.3 L495.7 491.3 L497.4 493.4 L499.2 495.5 L500.9 497.6 L502.6 499.8 L504.4 502.0 L506.1 504.2 L507.8 506.5 L509.6 508.8 L511.3 511.2 L513.0 513.6 L514.7 516.0 L516.5 518.5 L518.2 521.0 L519.9 523.6 L521.7 526.2 L523.4 528.8 L525.1 531.5 L526.9 534.2 L528.6 537.0 L530.3 539.8 L532.1 542.6 L533.8 545.5 L535.5 548.4 L537.3 551.4 L539.0 554.3 L540.7 557.4 L542.5 560.4 L544.2 563.5 L545.9 560.4 L547.7 557.4 L549.4 554.3 L551.1 551.4 L552.9 548.4 L554.6 545.5 L556.3 542.6 L558.1 539.8 L559.8 537.0 L561.5 534.2 L563.3 531.5 L565.0 528.8 L566.7 526.2 L568.5 523.6 L570.2 521.0 L571.9 518.5 L573.7 516.0 L575.4 513.6 L577.1 511.2 L578.8 508.8 L580.6 506.5 L582.3 504.2 L584.0 502.0 L585.8 499.8 L587.5 497.6 L589.2 495.5 L591.0 493.4 L592.7 491.3 L594.4 489.3 L596.2 487.3 L597.9 485.4 L599.6 483.5 L601.4 481.6 L603.1 479.8 L604.8 478.0 L606.6 476.3 L608.3 474.6 L610.0 472.9 L611.8 471.3 L613.5 469.7 L615.2 468.2 L617.0 466.7 L618.7 465.2 L620.4 463.8 L622.2 462.4 L623.9 461.1 L625.6 459.8 L627.4 458.5 L629.1 457.3 L630.8 456.1 L632.6 454.9 L634.3 453.8 L636.0 452.7 L637.8 451.7 L639.5 450.7 L641.2 449.7 L643.0 448.8 L644.7 447.9 L646.4 447.1 L648.1 446.3 L649.9 445.5 L651.6 444.8 L653.3 444.1 L655.1 443.5 L656.8 442.9 L658.5 442.3 L660.3 441.8 L662.0 441.3 L663.7 440.8 L665.5 440.4 L667.2 440.1 L668.9 439.7 L670.7 439.4 L672.4 439.2 L674.1 439.0 L675.9 438.8 L677.6 438.7 L679.3 438.6 L681.1 438.5 L682.8 438.5"/>
<rect x="405.60" y="313.40" width="277.20" height="250.15" fill="none" stroke="#000" stroke-width="2.3" stroke-linejoin="round"/>
<path d="M461.04 563.55V560.65M461.04 313.40V316.30" stroke="#000" stroke-width="1.25"/>
<path d="M516.48 563.55V560.65M516.48 313.40V316.30" stroke="#000" stroke-width="1.25"/>
<path d="M571.92 563.55V560.65M571.92 313.40V316.30" stroke="#000" stroke-width="1.25"/>
<path d="M627.36 563.55V560.65M627.36 313.40V316.30" stroke="#000" stroke-width="1.25"/>
<path d="M405.60 538.53H409.20M682.80 538.53H679.20" stroke="#000" stroke-width="1.25"/>
<path d="M405.60 513.52H409.20M682.80 513.52H679.20" stroke="#000" stroke-width="1.25"/>
<path d="M405.60 488.50H409.20M682.80 488.50H679.20" stroke="#000" stroke-width="1.25"/>
<path d="M405.60 463.49H409.20M682.80 463.49H679.20" stroke="#000" stroke-width="1.25"/>
<path d="M405.60 438.47H409.20M682.80 438.47H679.20" stroke="#000" stroke-width="1.25"/>
<path d="M405.60 413.46H409.20M682.80 413.46H679.20" stroke="#000" stroke-width="1.25"/>
<path d="M405.60 388.44H409.20M682.80 388.44H679.20" stroke="#000" stroke-width="1.25"/>
<path d="M405.60 363.43H409.20M682.80 363.43H679.20" stroke="#000" stroke-width="1.25"/>
<path d="M405.60 338.41H409.20M682.80 338.41H679.20" stroke="#000" stroke-width="1.25"/>
<text class="tk" transform="translate(404.80 580.75)" text-anchor="middle">0</text>
<text class="tk" transform="translate(460.24 580.75)" text-anchor="middle">0.2</text>
<text class="tk" transform="translate(515.68 580.75)" text-anchor="middle">0.4</text>
<text class="tk" transform="translate(571.12 580.75)" text-anchor="middle">0.6</text>
<text class="tk" transform="translate(626.56 580.75)" text-anchor="middle">0.8</text>
<text class="tk" transform="translate(682.00 580.75)" text-anchor="middle">1</text>
<text class="tk" transform="translate(400.60 343.56)" text-anchor="end">0.2</text>
<text class="tk" transform="translate(400.60 393.59)" text-anchor="end">0.1</text>
<text class="tk" transform="translate(394.20 443.62)" text-anchor="end">0</text>
<text class="tk" transform="translate(401.40 493.65)" text-anchor="end">0.1</text>
<path d="M380.90 490.00H384.00" stroke="#333" stroke-width="1.1"/>
<text class="tk" transform="translate(401.40 543.68)" text-anchor="end">0.2</text>
<path d="M380.90 540.03H384.00" stroke="#333" stroke-width="1.1"/>
<text class="al" transform="translate(547.60 600.70) scale(1.056 1)" text-anchor="middle">Probability of disturbance (p)</text>
<text class="yl" transform="translate(372.20 439.20) rotate(-90.0) scale(1.002 1)" text-anchor="middle">Covariance of patch disturbances (c)</text>
<text class="pl" transform="translate(661.50 335.80) scale(1.030 1)" text-anchor="start" style="font-size:16.6px;stroke:#111;stroke-width:0.15px">d.</text>
<text class="bl" transform="translate(533.20 428.60)" text-anchor="start">0.10</text>
<text class="ml" transform="translate(626.40 535.80) scale(1.100 1)" text-anchor="start" style="fill:#111;font-size:11.64px">m</text>
<text class="ms" transform="translate(637.82 539.40) scale(0.850 1)" text-anchor="start">1</text>
<text class="ml" transform="translate(642.66 535.80) scale(1.100 1)" text-anchor="start" style="fill:#111;font-size:11.64px">=</text>
<text class="ml" transform="translate(653.68 535.80) scale(1.090 1)" text-anchor="start" style="fill:#111;font-size:11.64px">0.9</text>
<text class="ml" transform="translate(626.40 548.30) scale(1.100 1)" text-anchor="start" style="fill:#111;font-size:11.64px">m</text>
<text class="ms" transform="translate(637.82 551.90) scale(0.850 1)" text-anchor="start">2</text>
<text class="ml" transform="translate(642.66 548.30) scale(1.100 1)" text-anchor="start" style="fill:#111;font-size:11.64px">=</text>
<text class="ml" transform="translate(653.68 548.30)" text-anchor="start" style="fill:#111;font-size:11.64px">0.1</text>
<circle class="dt" cx="517.8" cy="321.7" r="0.7"/>
</svg></body></html>
